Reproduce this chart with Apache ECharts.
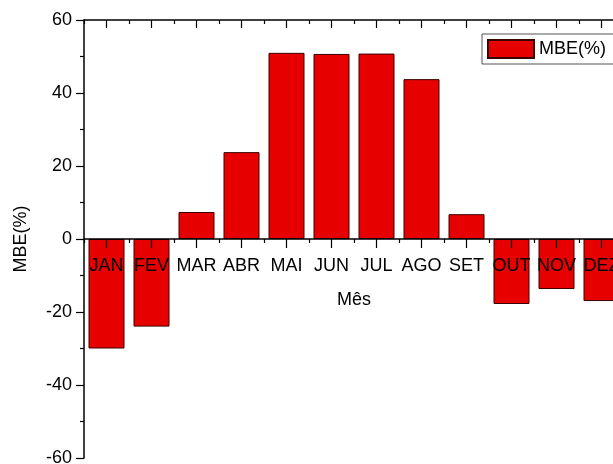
<!DOCTYPE html>
<html>
<head>
<meta charset="utf-8">
<script src="https://cdn.jsdelivr.net/npm/echarts@6/dist/echarts.min.js"></script>
<style>
  html, body { margin: 0; padding: 0; background: #fff; }
  #chart { width: 613px; height: 464px; }
</style>
</head>
<body>
<div id="chart"></div>
<script>
// meses e valores do MBE (%)
var meses = ["JAN", "FEV", "MAR", "ABR", "MAI", "JUN", "JUL", "AGO", "SET", "OUT", "NOV", "DEZ"];
var mbe = [-30, -24, 7.4, 23.8, 51, 50.7, 50.8, 43.8, 6.8, -17.8, -13.7, -17];
var yTicks = { min: -60, max: 60, interval: 20 };

var fonte = "Liberation Sans, Arial, sans-serif";
var chart = echarts.init(document.getElementById("chart"));

var tick = { color: "#000", width: 1.2 };

var option = {
  animation: false,
  grid: { left: 84, width: 540, top: 20, bottom: 6, outerBoundsMode: "none" },
  legend: {
    left: 482,
    top: 34,
    padding: [5, 30, 5, 5],
    itemWidth: 46,
    itemHeight: 18,
    itemGap: 6,
    icon: "rect",
    borderColor: "#555",
    borderWidth: 1,
    textStyle: { fontFamily: fonte, fontSize: 18, color: "#000" },
    data: ["MBE(%)"]
  },
  xAxis: [
    {
      type: "category",
      data: meses,
      position: "bottom",
      z: 5,
      name: "Mês",
      nameLocation: "middle",
      nameGap: 52,
      nameTextStyle: { fontFamily: fonte, fontSize: 18, color: "#000" },
      axisLine: { show: true, onZero: false, lineStyle: { color: "#000", width: 1.5 } },
      axisTick: { show: true, alignWithLabel: true, length: 9, lineStyle: tick },
      axisLabel: { fontFamily: fonte, fontSize: 18, color: "#000", margin: 18, interval: 0 }
    },
    {
      type: "category",
      data: meses,
      position: "bottom",
      z: 5,
      axisLine: { show: false, onZero: false },
      axisTick: { show: true, length: 4, lineStyle: tick },
      axisLabel: { show: false }
    },
    {
      type: "category",
      data: meses,
      position: "top",
      z: 5,
      axisLine: { show: true, onZero: false, lineStyle: { color: "#000", width: 1.5 } },
      axisTick: { show: true, inside: true, alignWithLabel: true, length: 8, lineStyle: tick },
      axisLabel: { show: false }
    },
    {
      type: "category",
      data: meses,
      position: "top",
      z: 5,
      axisLine: { show: false, onZero: false },
      axisTick: { show: true, inside: true, length: 4, lineStyle: tick },
      axisLabel: { show: false }
    }
  ],
  yAxis: {
    type: "value",
    min: yTicks.min,
    max: yTicks.max,
    interval: yTicks.interval,
    name: "MBE(%)",
    nameLocation: "middle",
    nameGap: 54,
    nameTextStyle: { fontFamily: fonte, fontSize: 18, color: "#000" },
    axisLine: { show: true, lineStyle: { color: "#000", width: 1.5 } },
    axisTick: { show: true, length: 8, lineStyle: tick },
    minorTick: { show: true, splitNumber: 2, length: 4, lineStyle: tick },
    splitLine: { show: false },
    axisLabel: { fontFamily: fonte, fontSize: 18, color: "#000", margin: 12 }
  },
  series: [
    {
      name: "MBE(%)",
      type: "bar",
      xAxisIndex: 0,
      data: mbe,
      barWidth: "80%",
      itemStyle: { color: "#e60000", borderColor: "#3a0000", borderWidth: 1 }
    }
  ]
};

chart.setOption(option);

// eixo das categorias na linha do zero (posição tirada da própria escala)
var zeroPx = chart.convertToPixel({ yAxisIndex: 0 }, 0);
var basePx = chart.convertToPixel({ yAxisIndex: 0 }, yTicks.min);
var off = zeroPx - basePx;
chart.setOption({ xAxis: [{ offset: off }, { offset: off }, {}, {}] });
</script>
</body>
</html>
